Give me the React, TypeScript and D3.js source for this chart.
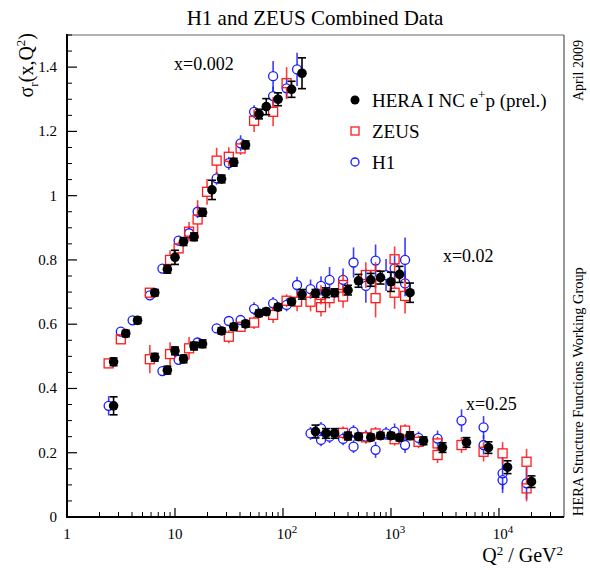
import React from 'react';
import * as d3 from 'd3';

type Pt = [number, number, number]; // [Q2, sigma_r, error]

// HERA I combined (black), per x bin
const heraX0002: Pt[] = [
  [2.7, 0.483, 0.012], [3.5, 0.571, 0.01], [4.5, 0.612, 0.01], [6.5, 0.698, 0.01],
  [8.5, 0.771, 0.012], [10, 0.808, 0.022], [12, 0.857, 0.012], [15, 0.872, 0.012],
  [18, 0.948, 0.012], [22, 1.018, 0.03], [27, 1.052, 0.012], [35, 1.104, 0.012],
  [45, 1.158, 0.012], [60, 1.254, 0.015], [70, 1.277, 0.025], [90, 1.3, 0.02],
  [120, 1.331, 0.025], [150, 1.381, 0.048],
];
const heraX002: Pt[] = [
  [2.7, 0.346, 0.028], [6.5, 0.497, 0.012], [8.5, 0.457, 0.012], [10, 0.517, 0.012],
  [12, 0.492, 0.012], [15, 0.532, 0.012], [18, 0.539, 0.012], [27, 0.579, 0.01],
  [35, 0.592, 0.01], [45, 0.601, 0.01], [60, 0.634, 0.01], [70, 0.639, 0.01],
  [90, 0.653, 0.01], [120, 0.67, 0.01], [150, 0.693, 0.015], [200, 0.696, 0.012],
  [250, 0.698, 0.015], [300, 0.698, 0.012], [400, 0.706, 0.015], [500, 0.735, 0.02],
  [650, 0.738, 0.02], [800, 0.745, 0.02], [1000, 0.732, 0.03], [1200, 0.755, 0.025],
  [1500, 0.698, 0.03],
];
const heraX025: Pt[] = [
  [200, 0.266, 0.02], [250, 0.26, 0.015], [300, 0.26, 0.015], [400, 0.252, 0.012],
  [500, 0.25, 0.01], [650, 0.248, 0.01], [800, 0.253, 0.01], [1000, 0.253, 0.01],
  [1200, 0.247, 0.01], [1500, 0.253, 0.012], [2000, 0.237, 0.012], [3000, 0.216, 0.015],
  [5000, 0.232, 0.015], [8000, 0.216, 0.018], [12000, 0.155, 0.02], [20000, 0.11, 0.018],
];

// ZEUS (red squares)
const zeusX0002: Pt[] = [
  [2.7, 0.478, 0.015], [3.5, 0.553, 0.015], [6.5, 0.698, 0.015], [10, 0.8, 0.03],
  [12, 0.836, 0.02], [15, 0.888, 0.03], [18, 0.926, 0.06], [22, 1.012, 0.04],
  [27, 1.109, 0.04], [35, 1.121, 0.03], [45, 1.147, 0.02], [60, 1.233, 0.035],
  [90, 1.261, 0.045], [120, 1.35, 0.05],
];
const zeusX002: Pt[] = [
  [6.5, 0.491, 0.044], [10, 0.507, 0.037], [15, 0.525, 0.035], [35, 0.561, 0.02],
  [45, 0.592, 0.015], [60, 0.605, 0.02], [90, 0.629, 0.025], [120, 0.673, 0.02],
  [150, 0.67, 0.03], [200, 0.67, 0.03], [250, 0.653, 0.029], [250, 0.691, 0.03],
  [300, 0.681, 0.03], [400, 0.722, 0.035], [400, 0.686, 0.035], [650, 0.753, 0.04],
  [800, 0.681, 0.06], [800, 0.753, 0.04], [1200, 0.802, 0.04], [1200, 0.698, 0.05],
  [1500, 0.688, 0.055],
];
const zeusX025: Pt[] = [
  [400, 0.262, 0.02], [650, 0.248, 0.02], [800, 0.26, 0.02], [1200, 0.242, 0.02],
  [1500, 0.269, 0.02], [2000, 0.234, 0.02], [3000, 0.229, 0.02], [3000, 0.193, 0.025],
  [5000, 0.224, 0.025], [8000, 0.203, 0.03], [12000, 0.198, 0.035], [20000, 0.172, 0.04],
  [20000, 0.089, 0.04],
];

// H1 (blue circles)
const h1X0002: Pt[] = [
  [3.5, 0.577, 0.012], [4.5, 0.612, 0.01], [6.5, 0.69, 0.01], [8.5, 0.773, 0.012],
  [12, 0.86, 0.015], [15, 0.883, 0.02], [18, 0.95, 0.02], [27, 1.054, 0.02],
  [35, 1.101, 0.02], [45, 1.163, 0.025], [60, 1.261, 0.02], [90, 1.372, 0.047],
  [90, 1.31, 0.03], [120, 1.334, 0.03], [150, 1.393, 0.052],
];
const h1X002: Pt[] = [
  [2.7, 0.346, 0.03], [8.5, 0.454, 0.012], [12, 0.489, 0.012], [18, 0.543, 0.015],
  [27, 0.587, 0.015], [35, 0.61, 0.015], [45, 0.613, 0.015], [60, 0.648, 0.02],
  [90, 0.665, 0.02], [120, 0.66, 0.02], [150, 0.722, 0.026], [200, 0.709, 0.03],
  [250, 0.719, 0.03], [300, 0.738, 0.04], [400, 0.738, 0.035], [500, 0.792, 0.047],
  [650, 0.719, 0.052], [800, 0.798, 0.05], [1000, 0.753, 0.05], [1200, 0.774, 0.04],
  [1500, 0.8, 0.07], [1500, 0.727, 0.04],
];
const h1X025: Pt[] = [
  [200, 0.26, 0.02], [250, 0.276, 0.02], [250, 0.24, 0.02], [300, 0.25, 0.02],
  [400, 0.243, 0.02], [500, 0.266, 0.02], [500, 0.219, 0.02], [650, 0.25, 0.02],
  [800, 0.209, 0.025], [1000, 0.26, 0.02], [1200, 0.266, 0.025], [1500, 0.224, 0.025],
  [2000, 0.246, 0.02], [3000, 0.244, 0.025], [5000, 0.3, 0.035], [8000, 0.279, 0.035],
  [8000, 0.224, 0.03], [12000, 0.136, 0.05], [12000, 0.115, 0.04], [20000, 0.105, 0.05],
];

const binLabels = ['x=0.002', 'x=0.02', 'x=0.25'];
const binLabelPos: [number, number][] = [[9.8, 1.39], [3030, 0.794], [4950, 0.333]];
const yTicks = [0, 0.2, 0.4, 0.6, 0.8, 1, 1.2, 1.4];
const xDecades = [1, 10, 100, 1000, 10000];
const legendLabels = ['HERA I NC e', 'ZEUS', 'H1'];

const W = 590, H = 570;
const FONT = '"Liberation Serif", "DejaVu Serif", serif';
const RED = '#ff1a1a';
const BLUE = '#1a1aff';
const SHIFT = 0.9; // ZEUS/H1 drawn slightly left of combined points

export default function App() {
  const x = d3.scaleLog().domain([1, 4e4]).range([67, 564]);
  const y = d3.scaleLinear().domain([0, 1.5]).range([517, 35]);

  const minorY = d3.range(0, 1.5001, 0.05).filter(v => Math.abs(v / 0.2 - Math.round(v / 0.2)) > 1e-6);
  const minorX: number[] = [];
  xDecades.forEach(d => { for (let k = 2; k <= 9; k++) if (d * k < 4e4) minorX.push(d * k); });

  const openPoints = (pts: Pt[], kind: 'sq' | 'ci', color: string, key: string) =>
    pts.map((p, i) => {
      const cx = x(p[0] * SHIFT), cy = y(p[1]);
      const r = 4.5;
      const top = y(p[1] + p[2]), bot = y(p[1] - p[2]);
      return (
        <g key={key + i}>
          {top < cy - r && <line x1={cx} x2={cx} y1={top} y2={cy - r} stroke={color} strokeWidth={1.6} strokeOpacity={0.85} />}
          {bot > cy + r && <line x1={cx} x2={cx} y1={cy + r} y2={bot} stroke={color} strokeWidth={1.6} strokeOpacity={0.85} />}
          {kind === 'sq'
            ? <rect x={cx - r} y={cy - r} width={2 * r} height={2 * r} fill="none" stroke={color} strokeWidth={1.3} />
            : <circle cx={cx} cy={cy} r={r} fill="none" stroke={color} strokeWidth={1.3} />}
        </g>
      );
    });

  const heraPoints = (pts: Pt[], key: string) =>
    pts.map((p, i) => {
      const cx = x(p[0]), cy = y(p[1]);
      const top = y(p[1] + p[2]), bot = y(p[1] - p[2]);
      return (
        <g key={key + i}>
          <line x1={cx} x2={cx} y1={top} y2={bot} stroke="#000" strokeWidth={1.6} />
          <line x1={cx - 4} x2={cx + 4} y1={top} y2={top} stroke="#000" strokeWidth={1.6} />
          <line x1={cx - 4} x2={cx + 4} y1={bot} y2={bot} stroke="#000" strokeWidth={1.6} />
          <circle cx={cx} cy={cy} r={4.8} fill="#000" />
        </g>
      );
    });

  return (
    <svg width={W} height={H} style={{ position: 'absolute', left: 0, top: 0, background: '#fff' }}
      fontFamily={FONT}>
      <text x={315} y={25} textAnchor="middle" fontSize={21}>H1 and ZEUS Combined Data</text>

      {/* frame */}
      <line x1={67} x2={564} y1={35} y2={35} stroke="#666" strokeWidth={1} />
      <line x1={564} x2={564} y1={35} y2={517} stroke="#333" strokeWidth={1} />
      <line x1={67} x2={67} y1={34} y2={518} stroke="#000" strokeWidth={2} />
      <line x1={66} x2={564} y1={517} y2={517} stroke="#000" strokeWidth={2} />

      {/* y ticks */}
      {yTicks.map(t => (
        <g key={'yt' + t}>
          <line x1={67} x2={77} y1={y(t)} y2={y(t)} stroke="#000" strokeWidth={1.2} />
          <text x={57} y={y(t) + 5} textAnchor="end" fontSize={15}>{t}</text>
        </g>
      ))}
      {minorY.map(t => (
        <line key={'ym' + t} x1={67} x2={72} y1={y(t)} y2={y(t)} stroke="#000" strokeWidth={1} />
      ))}

      {/* x ticks */}
      {xDecades.map((d, i) => (
        <g key={'xt' + d}>
          <line x1={x(d)} x2={x(d)} y1={517} y2={508} stroke="#000" strokeWidth={1.2} />
          <text x={x(d) + (i >= 2 ? 4 : 0)} y={539} textAnchor="middle" fontSize={15}>
            {i === 0 ? '1' : i === 1 ? '10' : <>10<tspan dy={-6} fontSize={11}>{i}</tspan></>}
          </text>
        </g>
      ))}
      {minorX.map(v => (
        <line key={'xm' + v} x1={x(v)} x2={x(v)} y1={517} y2={512} stroke="#000" strokeWidth={1} />
      ))}

      {/* axis titles */}
      <text transform="translate(33,33) rotate(-90)" textAnchor="end" fontSize={20}>
        σ<tspan dy={5} fontSize={13}>r</tspan><tspan dy={-5}>(x,Q</tspan><tspan dy={-8} fontSize={13}>2</tspan><tspan dy={8}>)</tspan>
      </text>
      <text x={563} y={562} textAnchor="end" fontSize={20}>
        Q<tspan dy={-7} fontSize={13}>2</tspan><tspan dy={7}> / GeV</tspan><tspan dy={-7} fontSize={13}>2</tspan>
      </text>

      {/* side notes */}
      <text transform="translate(583,40) rotate(-90)" textAnchor="end" fontSize={14}>April 2009</text>
      <text transform="translate(583,516) rotate(-90)" textAnchor="start" fontSize={14.4}>HERA Structure Functions Working Group</text>

      {/* bin labels */}
      {binLabels.map((l, i) => (
        <text key={l} x={x(binLabelPos[i][0])} y={y(binLabelPos[i][1])} fontSize={18}>{l}</text>
      ))}

      {/* data */}
      {openPoints(h1X0002, 'ci', BLUE, 'h1a')}
      {openPoints(h1X002, 'ci', BLUE, 'h1b')}
      {openPoints(h1X025, 'ci', BLUE, 'h1c')}
      {openPoints(zeusX0002, 'sq', RED, 'za')}
      {openPoints(zeusX002, 'sq', RED, 'zb')}
      {openPoints(zeusX025, 'sq', RED, 'zc')}
      {heraPoints(heraX0002, 'ha')}
      {heraPoints(heraX002, 'hb')}
      {heraPoints(heraX025, 'hc')}

      {/* legend */}
      <circle cx={355} cy={100} r={4.5} fill="#000" />
      <rect x={351} y={127} width={8} height={8} fill="none" stroke={RED} strokeWidth={1.3} />
      <circle cx={355} cy={162} r={4} fill="none" stroke={BLUE} strokeWidth={1.3} />
      <text x={372} y={107} fontSize={19}>
        {legendLabels[0]}<tspan dy={-8} fontSize={13}>+</tspan><tspan dy={8}>p (prel.)</tspan>
      </text>
      <text x={372} y={138} fontSize={19}>{legendLabels[1]}</text>
      <text x={372} y={169} fontSize={19}>{legendLabels[2]}</text>
    </svg>
  );
}
